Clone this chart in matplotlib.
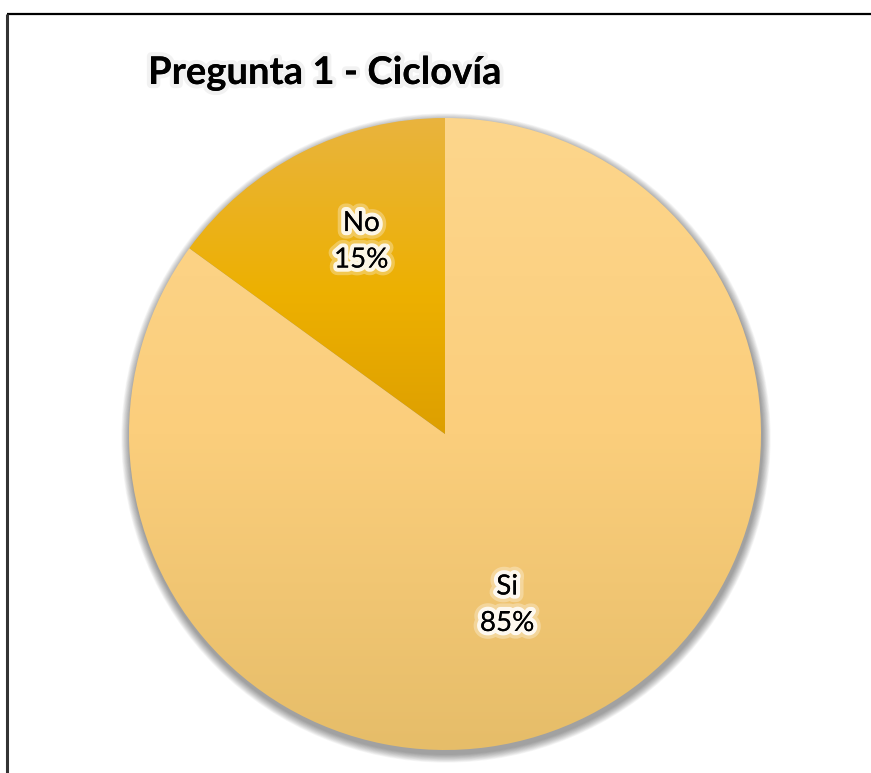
import matplotlib
matplotlib.use("Agg")
import matplotlib.pyplot as plt
import matplotlib.patheffects as pe
from matplotlib.patches import Circle
import numpy as np

# data -----------------
categories = ["Si", "No"]
values = [85, 15]
title = "Pregunta 1 - Ciclovía"

# gradient stops (position, colour) for each slice, top -> bottom of pie
grad_stops = [
    [(0.0, "#FDD68C"), (0.5, "#FBCE7C"), (1.0, "#E6BD69")],
    [(0.0, "#E9B43E"), (0.28, "#EDB000"), (0.5, "#DD9F00"), (1.0, "#D89800")],
]
label_dist = [0.575, 0.665]
label_turn = [-7, -3.5]   # degrees, nudges label from wedge centre line

W, H = 871, 773
fig = plt.figure(figsize=(W / 100, H / 100), dpi=100, facecolor="white",
                 edgecolor="white", linewidth=0)
ax = fig.add_axes([0, 0, 1, 1])

cx, cy, r = 445, H - 434, 316

# soft shadow under the pie
for k in range(12):
    ax.add_patch(Circle((cx + 1, cy - 4), r + 1 + k * 0.7, color="black",
                        alpha=0.035, lw=0, zorder=1))

wedges, _ = ax.pie(values, startangle=90, counterclock=False,
                   center=(cx, cy), radius=r,
                   wedgeprops=dict(linewidth=0))
ax.set_xlim(0, W)
ax.set_ylim(0, H)
ax.set_aspect("equal")
ax.set_axis_off()

# vertical gradient fill clipped to each wedge
t = np.linspace(0, 1, 512)
for i, w in enumerate(wedges):
    w.set_facecolor("none")
    pos = [s[0] for s in grad_stops[i]]
    cols = np.array([matplotlib.colors.to_rgb(s[1]) for s in grad_stops[i]])
    img = np.stack([np.interp(t, pos, cols[:, c]) for c in range(3)], axis=1)
    im = ax.imshow(img[:, None, :], extent=(cx - r, cx + r, cy - r, cy + r),
                   origin="upper", aspect="auto", zorder=2)
    im.set_clip_path(w)

# slice labels
total = sum(values)
glow = [pe.withStroke(linewidth=11, foreground="white", alpha=0.3),
        pe.withStroke(linewidth=6, foreground="white", alpha=0.85),
        pe.Normal()]
for i, w in enumerate(wedges):
    ang = np.deg2rad((w.theta1 + w.theta2) / 2 + label_turn[i])
    x = cx + label_dist[i] * r * np.cos(ang)
    y = cy + label_dist[i] * r * np.sin(ang)
    pct = round(values[i] / total * 100)
    ax.text(x, y, f"{categories[i]}\n{pct}%", ha="center", va="center",
            fontsize=20, family=["Lato", "DejaVu Sans"], color="black",
            linespacing=1.5, zorder=5, path_effects=glow)

ax.text(148, H - 73, title, ha="left", va="center",
        fontsize=27.5, fontweight="bold", family=["Lato", "DejaVu Sans"],
        path_effects=[pe.withStroke(linewidth=6, foreground="#f2f2f2"),
                      pe.Normal()])

# chart border (only top and left fall inside the picture)
ax.plot([7, W + 10], [H - 14, H - 14], color="black", lw=1.6,
        solid_capstyle="butt", clip_on=False)
ax.plot([7, 7], [-10, H - 14], color="#333333", lw=2.2,
        solid_capstyle="butt", clip_on=False)

fig.savefig("out.png", dpi=100, facecolor="white")
